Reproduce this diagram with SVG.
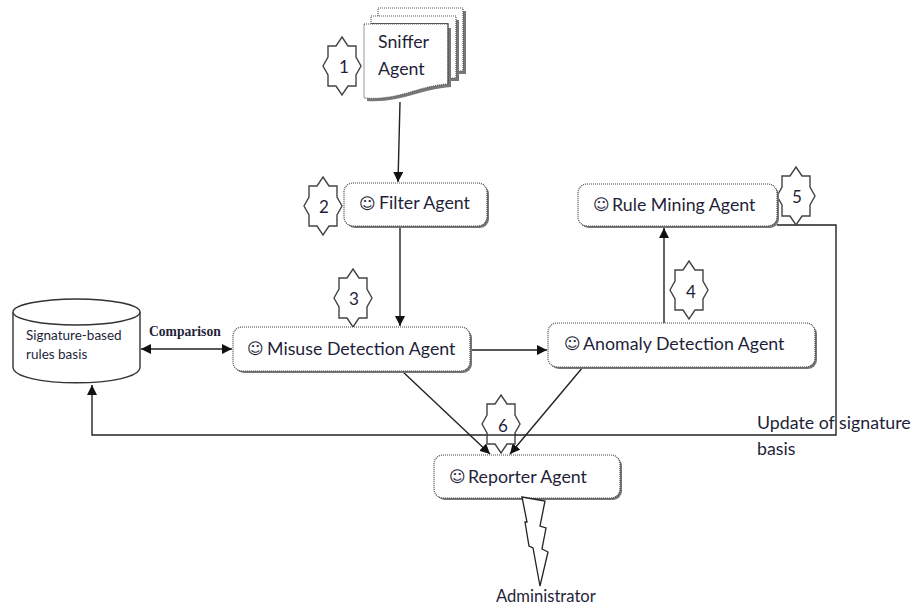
<svg xmlns="http://www.w3.org/2000/svg" width="911" height="608" viewBox="0 0 911 608">
<style>
text{font-family:Lato,"Liberation Sans",sans-serif;fill:#1f1f3a}
.l{font-size:17.800px}
.n{font-size:17px;text-anchor:middle}
.sm{font-family:"DejaVu Sans",sans-serif;font-size:16px}
.small{font-size:13.500px}
.box{fill:#fff;stroke:#444;stroke-width:1.2;stroke-dasharray:1 1}
.sh{fill:#777}
.star{fill:#fff;stroke:#444;stroke-width:1.4}
.c{fill:none;stroke:#222;stroke-width:1.4}
.sheet{fill:#fff;stroke:#555;stroke-width:1.2;stroke-dasharray:1 1}
</style>
<defs>
<polygon id="star" points="0,-29 6,-20 14,-20 14,-9 19,0 14,9 14,20 6,20 0,29 -6,20 -14,20 -14,9 -19,0 -14,-9 -14,-20 -6,-20"/>
<marker id="a" viewBox="0 0 10 10" refX="10" refY="5" markerWidth="10" markerHeight="10" markerUnits="userSpaceOnUse" orient="auto-start-reverse"><path d="M0,0L10,5L0,10Z" fill="#111"/></marker>
</defs>

<g id="sniffer">
<path class="sh" d="M381,11H466V74H459V81H451V87C421,89 401,103 367,101V27H381Z"/>
<path class="sheet" d="M378,8H463V71H378Z"/>
<path class="sh" d="M459,20V81H452V20Z"/>
<path class="sheet" d="M371,16H456V78H371Z"/>
<path class="sh" d="M451,28V87H448V28Z"/>
<path d="M364,24H448V84C418,86 398,101 364,98Z" fill="#fff" stroke="#555" stroke-width="1.2" stroke-dasharray="1 1"/>
<path d="M371,23.500H448V84" fill="none" stroke="#555" stroke-width="1.2"/>
<text class="l" x="378" y="48">Sniffer</text>
<text class="l" x="378" y="75">Agent</text>
</g>
<g id="badge1"><use href="#star" x="342" y="66" class="star"/><text class="n" x="344" y="73">1</text></g>

<g id="connectors">
<path class="c" d="M400,102L398,182" marker-end="url(#a)"/>
<path class="c" d="M400,226V326" marker-end="url(#a)"/>
<path class="c" d="M141,349H232" marker-start="url(#a)" marker-end="url(#a)"/>
<path class="c" d="M471,350H547" marker-end="url(#a)"/>
<path class="c" d="M664,323V228" marker-end="url(#a)"/>
<path class="c" d="M402,371L490,454" marker-end="url(#a)"/>
<path class="c" d="M583,367L510,454" marker-end="url(#a)"/>
<path class="c" d="M777,225H836V435H92V385" marker-end="url(#a)"/>
</g>

<g id="badge3"><use href="#star" x="353" y="298" class="star"/><text class="n" x="354" y="305">3</text></g>
<g id="badge2"><use href="#star" x="323" y="206" class="star"/><text class="n" x="324" y="213">2</text></g>
<g id="badge4"><use href="#star" x="689" y="290" class="star"/><text class="n" x="691" y="298">4</text></g>
<g id="badge5"><use href="#star" x="796" y="196" class="star"/><text class="n" x="797" y="203">5</text></g>
<g id="badge6"><use href="#star" x="501" y="424" class="star"/><text class="n" x="503" y="432">6</text></g>
<path class="c" d="M487,435H516"/>

<g id="filter">
<rect class="sh" x="346" y="185" width="143" height="43" rx="9"/>
<rect class="box" x="344" y="183" width="143" height="43" rx="9"/>
<text class="sm" x="359" y="209">☺</text><text class="l" x="379" y="209">Filter Agent</text>
</g>
<g id="rule">
<rect class="sh" x="580" y="186" width="199" height="42" rx="9"/>
<rect class="box" x="578" y="184" width="199" height="42" rx="9"/>
<text class="sm" x="593" y="210">☺</text><text class="l" x="612" y="211">Rule Mining Agent</text>
</g>
<g id="misuse">
<rect class="sh" x="235" y="329" width="237" height="44" rx="9"/>
<rect class="box" x="233" y="327" width="237" height="44" rx="9"/>
<text class="sm" x="247" y="354">☺</text><text class="l" x="267" y="355">Misuse Detection Agent</text>
</g>
<g id="anomaly">
<rect class="sh" x="550" y="325" width="267" height="44" rx="9"/>
<rect class="box" x="548" y="323" width="267" height="44" rx="9"/>
<text class="sm" x="564" y="349">☺</text><text class="l" x="583" y="350">Anomaly Detection Agent</text>
</g>
<g id="reporter">
<rect class="sh" x="436" y="457" width="186" height="43" rx="9"/>
<rect class="box" x="434" y="455" width="186" height="43" rx="9"/>
<text class="sm" x="449" y="482">☺</text><text class="l" x="468" y="483">Reporter Agent</text>
</g>

<g id="rules-basis">
<path d="M13,312V367C13,388 140,388 140,367V312" fill="#fff" stroke="#333" stroke-width="1.4"/>
<ellipse cx="76.500" cy="312" rx="63.500" ry="13" fill="#fff" stroke="#333" stroke-width="1.4"/>
<text class="small" x="26" y="340">Signature-based</text>
<text class="small" x="26" y="359">rules basis</text>
</g>
<text x="149" y="336" style="font-family:'Liberation Serif',serif;font-size:13.600px;font-weight:bold">Comparison</text>

<g id="lightning">
<path d="M522,497L545,501L540,526L546,528L542,549L548,552L540,586L533,548L529,546L525,522L527,522Z" fill="#fff" stroke="#222" stroke-width="1.3"/>
</g>
<text x="496" y="602" style="font-size:16.600px">Administrator</text>
<text class="l" x="757" y="429">Update of signature</text>
<text class="l" x="757" y="455">basis</text>
</svg>
